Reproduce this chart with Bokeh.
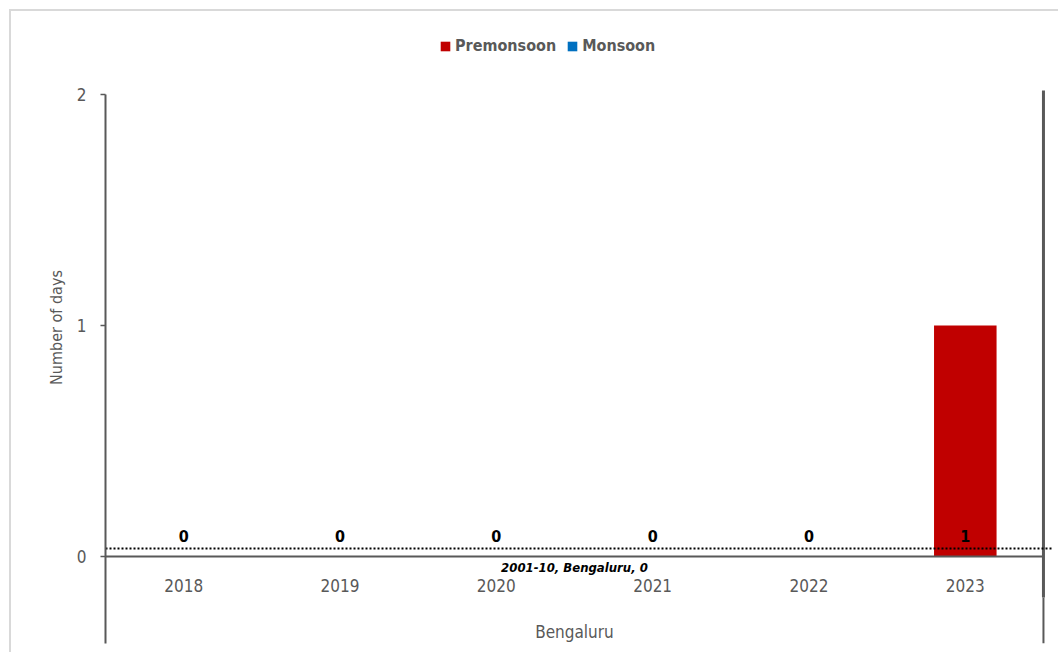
from bokeh.core.properties import value
from bokeh.embed import file_html
from bokeh.models import FixedTicker, Legend, LegendItem, LinearAxis, Range1d
from bokeh.plotting import figure
from bokeh.resources import INLINE

# ---- data -------------------------------------------------------------
city = "Bengaluru"
years = ["2018", "2019", "2020", "2021", "2022", "2023"]
premonsoon = [0, 0, 0, 0, 0, 1]
monsoon = [0, 0, 0, 0, 0, 0]
baseline_period = "2001-10"
baseline_days = 0
y_ticks = [0, 1, 2]

# ---- styling ----------------------------------------------------------
FONT = "DejaVu Sans Condensed"
GREY = "#595959"
RED = "#c00000"
BLUE = "#0070c0"

n = len(years)
x_pos = [i + 0.5 for i in range(n)]
y_top = max(y_ticks)
y_start, y_end = -0.3766, 2.359
ref_shift = 0.035  # the baseline is drawn a hair above the axis line

p = figure(width=1049, height=643,
           x_range=Range1d(0, 6.077), y_range=Range1d(y_start, y_end),
           x_axis_type=None, y_axis_type=None,
           output_backend="svg", toolbar_location=None,
           min_border_left=94, min_border_right=5,
           min_border_top=0, min_border_bottom=11)
p.outline_line_color = None
p.background_fill_color = "white"
p.margin = (9, 0, 0, 9)
p.styles = {"border-left": "2px solid #d9d9d9", "border-top": "2px solid #d9d9d9"}

p.extra_y_ranges = {"ref": Range1d(y_start - ref_shift, y_end - ref_shift)}

# value axis (line limited to the plotted span)
yaxis = LinearAxis(ticker=FixedTicker(ticks=y_ticks), bounds=(y_start, y_top),
                   axis_label="Number of days")
yaxis.axis_line_color = GREY
yaxis.axis_line_width = 2
yaxis.major_tick_line_color = GREY
yaxis.major_tick_line_width = 1.5
yaxis.major_tick_out = 5
yaxis.major_tick_in = 0
yaxis.minor_tick_line_color = None
yaxis.major_label_standoff = 14
yaxis.major_label_text_font = FONT
yaxis.major_label_text_font_size = "17px"
yaxis.major_label_text_color = GREY
yaxis.axis_label_standoff = 8
yaxis.axis_label_text_font = FONT
yaxis.axis_label_text_font_style = "normal"
yaxis.axis_label_text_font_size = "16px"
yaxis.axis_label_text_color = GREY
p.add_layout(yaxis, "left")

# bars (stacked)
mon_top = [a + b for a, b in zip(premonsoon, monsoon)]
r_pre = p.vbar(x=x_pos, bottom=0, top=premonsoon, width=0.4,
               fill_color=RED, line_color=None)
r_mon = p.vbar(x=x_pos, bottom=premonsoon, top=mon_top, width=0.4,
               fill_color=BLUE, line_color=None)

# category axis line and right divider
p.segment(x0=[0], y0=[0], x1=[n], y1=[0], line_color=GREY, line_width=2)
p.segment(x0=[n], y0=[-0.177], x1=[n], y1=[y_top + 0.017],
          line_color=GREY, line_width=3)
p.segment(x0=[n], y0=[y_start], x1=[n], y1=[-0.177],
          line_color=GREY, line_width=2)

# 2001-10 baseline
p.line(x=[0, n + 0.06], y=[baseline_days, baseline_days], y_range_name="ref",
       line_color="black", line_width=2, line_dash="2 2")
p.text(x=[n / 2], y=[baseline_days], y_range_name="ref",
       text=[f"{baseline_period}, {city}, {baseline_days}"],
       y_offset=19, text_align="center", text_baseline="middle",
       text_font=value(FONT), text_font_style="bold italic",
       text_font_size="13px", text_color="black")

# value labels
p.text(x=x_pos, y=[0] * n, text=[str(v) for v in premonsoon], y_offset=-20,
       text_align="center", text_baseline="middle", text_font=value(FONT),
       text_font_style="bold", text_font_size="16px", text_color="black")

# category labels
p.text(x=x_pos, y=[0] * n, text=years, y_offset=29,
       text_align="center", text_baseline="middle", text_font=value(FONT),
       text_font_size="17px", text_color=GREY)
p.text(x=[n / 2], y=[0], text=[city], y_offset=76,
       text_align="center", text_baseline="middle", text_font=value(FONT),
       text_font_size="17px", text_color=GREY)

legend = Legend(items=[LegendItem(label="Premonsoon", renderers=[r_pre]),
                       LegendItem(label="Monsoon", renderers=[r_mon])],
                orientation="horizontal", location=(334, 588),
                glyph_width=12, glyph_height=12, label_standoff=4,
                spacing=10, padding=0, margin=0,
                border_line_color=None, background_fill_alpha=0,
                label_text_font=FONT, label_text_font_style="bold",
                label_text_font_size="16px", label_text_color=GREY)
p.add_layout(legend, "center")

open("out.html", "w").write(file_html(p, INLINE))
